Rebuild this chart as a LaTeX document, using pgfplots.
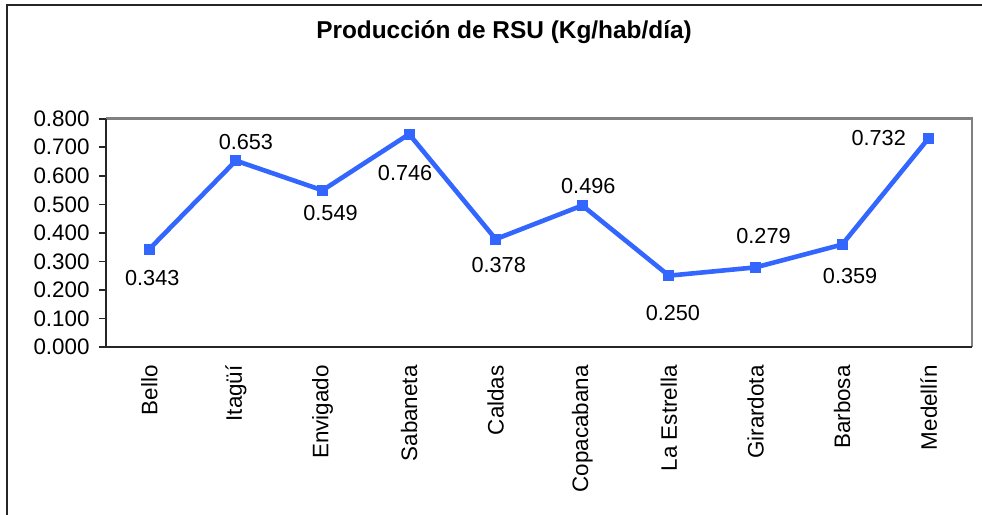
\documentclass[border=0pt]{standalone}
\usepackage{fontspec}
\setmainfont{Liberation Sans}
\usepackage{pgfplots}
\usepackage{pgfplotstable}
\pgfplotsset{compat=1.18}

\definecolor{rsublue}{RGB}{51,102,255}
\definecolor{framegray}{RGB}{128,128,128}

% city values, label offsets in bp
\pgfplotstableread{
x y dx dy
1 0.343 1.5 -14.5
2 0.653 5 9.5
3 0.549 4 -11.5
4 0.746 -2 -19.5
5 0.378 1.5 -13
6 0.496 3 9.5
7 0.250 2 -18.5
8 0.279 4 15.5
9 0.359 4 -15.5
10 0.732 -25 0
}\rsudata

\newcommand{\chartfont}{\fontsize{11.2bp}{13bp}\selectfont}
\newcommand{\labelfont}{\fontsize{10.85bp}{13bp}\selectfont}

\begin{document}
\begin{tikzpicture}
\useasboundingbox (0,0) rectangle (491bp,-257.5bp);
% outer chart frame (only top and left visible)
\draw[line width=1bp, black!85] (3.5bp,-260bp) -- (3.5bp,-2.4bp) -- (495bp,-2.4bp);

\node[anchor=base, font=\fontsize{12.2bp}{14bp}\selectfont\bfseries] at (252bp,-19bp) {Producción de RSU (Kg/hab/día)};

\begin{axis}[
    at={(53bp,-173.5bp)},
    anchor=south west,
    scale only axis,
    width=433bp,
    height=114.15bp,
    xmin=0.5, xmax=10.5,
    ymin=0, ymax=0.8,
    axis line style={draw=none},
    clip=false,
    ytick={0,0.1,0.2,0.3,0.4,0.5,0.6,0.7,0.8},
    tick align=outside,
    ytick pos=left,
    xtick pos=bottom,
    major tick length=3.5bp,
    tick style={black!85, line width=0.8bp},
    yticklabel style={font=\chartfont, xshift=-1.2bp, /pgf/number format/fixed,
        /pgf/number format/fixed zerofill, /pgf/number format/precision=3,
        /pgf/number format/assume math mode=true},
    xtick={1,...,10},
    xticklabels={Bello, Itagüí, Envigado, Sabaneta, Caldas, Copacabana, La Estrella, Girardota, Barbosa, Medellín},
    xticklabel style={font=\chartfont, rotate=90, anchor=east, inner sep=0pt},
    xticklabel shift=5.5bp,
    xtick style={draw=none},
    extra x ticks={0.5,1.5,2.5,3.5,4.5,5.5,6.5,7.5,8.5,9.5,10.5},
    extra x tick labels={},
    extra x tick style={tick style={black!85, line width=0.8bp}, major tick length=3.5bp, grid=none},
]
% plot area border: gray top and right, dark left and bottom
\draw[framegray, line width=1.3bp] (rel axis cs:0,1) -- (rel axis cs:1,1) -- (rel axis cs:1,0);
\draw[black!85, line width=1bp] (rel axis cs:0,1) -- (rel axis cs:0,0) -- (rel axis cs:1,0);

\addplot[
    rsublue, line width=2.3bp,
    mark=square*, mark size=2.5bp, mark options={fill=rsublue, draw=rsublue, line width=0.5bp},
    visualization depends on={\thisrow{dx} \as \dx},
    visualization depends on={\thisrow{dy} \as \dy},
    nodes near coords,
    point meta=y,
    every node near coord/.append style={
        anchor=center, font=\labelfont, text=black,
        xshift=\dx bp, yshift=\dy bp,
        /pgf/number format/fixed, /pgf/number format/fixed zerofill,
        /pgf/number format/precision=3,
        /pgf/number format/assume math mode=true
    },
] table[x=x, y=y] {\rsudata};
\end{axis}
\end{tikzpicture}
\end{document}
